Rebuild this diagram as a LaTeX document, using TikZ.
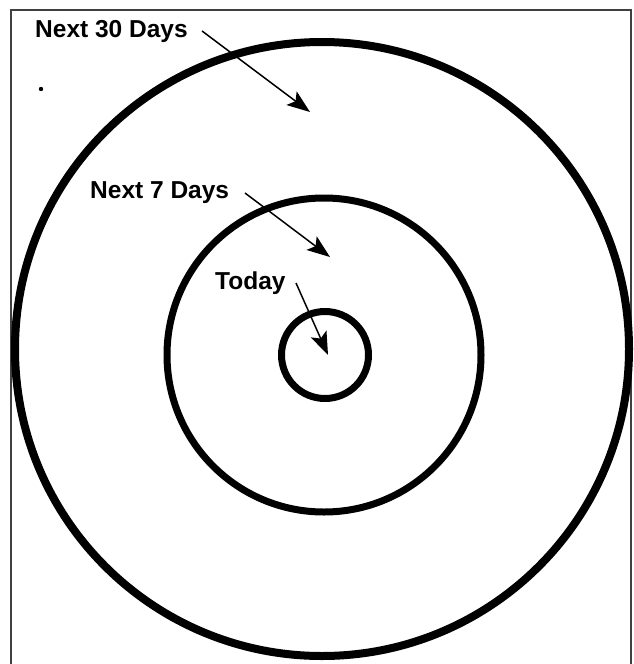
\documentclass[tikz,border=0pt]{standalone}
\usepackage{fontspec}
\setmainfont{Liberation Sans}
\usetikzlibrary{arrows.meta}
\begin{document}
\begin{tikzpicture}[x=1pt,y=-1pt,
  ring/.style={draw=black,line width=#1},
  lbl/.style={anchor=base west,inner sep=0pt,font=\fontsize{24.5}{28}\selectfont\bfseries},
  pointer/.style={draw=black,line width=1.5pt,-{Stealth[length=23pt,width=17pt,inset=5pt]}},
  frame/.style={draw=black!75,line width=1.3pt}]
\useasboundingbox (0,0) rectangle (633,664);
\fill[white] (0,0) rectangle (633,664);
% frame
\draw[frame] (11,680) -- (11,10) -- (631,10) -- (631,680);
% rings
\coordinate (c0) at (322,349);
\coordinate (c1) at (324,355);
\coordinate (c2) at (325,355);
\draw[ring=8pt] (c0) circle[radius=307];
\draw[ring=7pt] (c1) circle[radius=157];
\draw[ring=7pt] (c2) circle[radius=43.5];
% stray dot
\fill (41,89) circle[radius=2.2];
% labels
\node[lbl] (l30) at (35,37) {Next 30 Days};
\node[lbl] (l7) at (90,198) {Next 7 Days};
\node[lbl] (lt) at (215,289) {Today};
% arrow end points
\coordinate (s30) at (202,31);
\coordinate (e30) at (310,112);
\coordinate (s7) at (245,193);
\coordinate (e7) at (330,257);
\coordinate (st) at (296,283);
\coordinate (et) at (328,355);
\draw[pointer] (s30) -- (e30);
\draw[pointer] (s7) -- (e7);
\draw[pointer] (st) -- (et);
\end{tikzpicture}
\end{document}
